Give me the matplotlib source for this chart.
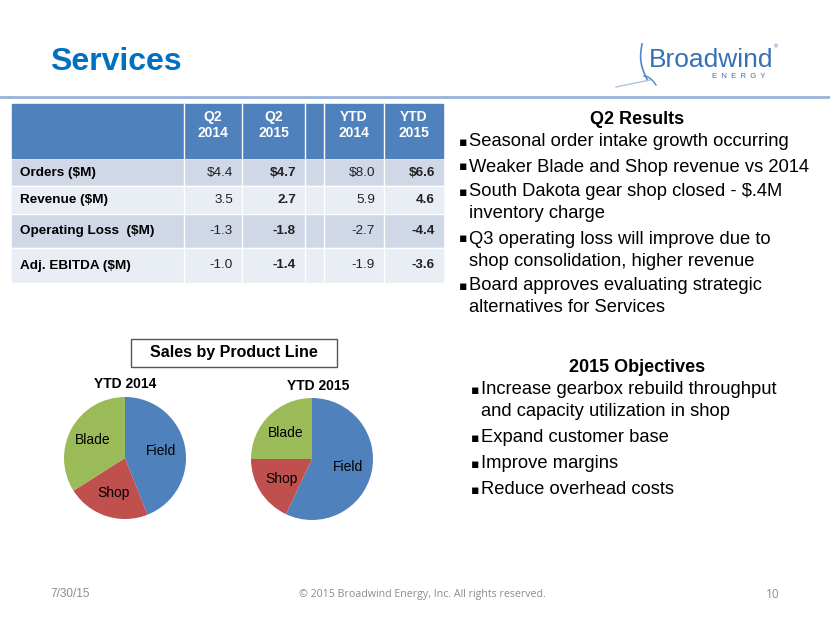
import numpy as np
import matplotlib.pyplot as plt
from matplotlib.patches import Rectangle

plt.rcParams['font.family'] = ['Liberation Sans', 'DejaVu Sans']

# Table data
col_heads = ["Q2\n2014", "Q2\n2015", "", "YTD\n2014", "YTD\n2015"]
row_labels = ["Orders ($M)", "Revenue ($M)", "Operating Loss  ($M)", "Adj. EBITDA ($M)"]
q2_2014 = ["$4.4", "3.5", "-1.3", "-1.0"]
q2_2015 = ["$4.7", "2.7", "-1.8", "-1.4"]
ytd_2014 = ["$8.0", "5.9", "-2.7", "-1.9"]
ytd_2015 = ["$6.6", "4.6", "-4.4", "-3.6"]

# Pie data (share of sales, %)
products = ["Field", "Shop", "Blade"]
sales_2014 = [44, 22, 34]
sales_2015 = [57, 18, 25]
pie_colors = ["#4F81BD", "#C0504D", "#9BBB59"]

q2_points = [
    ["Seasonal order intake growth occurring"],
    ["Weaker Blade and Shop revenue vs 2014"],
    ["South Dakota gear shop closed - $.4M", "inventory charge"],
    ["Q3 operating loss will improve due to", "shop consolidation, higher revenue"],
    ["Board approves evaluating strategic", "alternatives for Services"],
]
objectives = [
    ["Increase gearbox rebuild throughput", "and capacity utilization in shop"],
    ["Expand customer base"],
    ["Improve margins"],
    ["Reduce overhead costs"],
]

W, H = 830, 623
fig = plt.figure(figsize=(W / 100, H / 100), dpi=100)
ax = fig.add_axes([0, 0, 1, 1])
ax.set_xlim(0, W)
ax.set_ylim(H, 0)
ax.axis("off")

# title and rule
ax.text(50, 62, "Services", fontsize=23, fontweight="bold", color="#0070C0", va="center")
ax.plot([0, W], [97, 97], color="#95B3D7", lw=2)

# logo (rough)
ax.text(649, 60, "Broadwind", fontsize=19, color="#3470B6", va="center")
ax.text(774, 47, "®", fontsize=4, color="#3470B6", va="center")
ax.text(712, 76, "E  N  E  R  G  Y", fontsize=5.5, color="#3470B6", va="center")
t = np.linspace(0, 1, 30)
ax.plot(642 - 4 * np.sin(t * 3) + 6 * t, 44 + 36 * t, color="#4F86C6", lw=1.2)
ax.plot(616 + 34 * t, 87 - 7 * t, color="#A9C4E4", lw=1)
ax.plot(644 + 12 * t, 76 + 9 * t ** 2, color="#4F86C6", lw=1)

# table
x_edges = [12, 184, 242, 305, 324, 384, 443]
ax.add_patch(Rectangle((12, 104), 431, 54, color="#4F81BD"))
for xe in x_edges[1:-1]:
    ax.plot([xe, xe], [104, 158], color="white", lw=1)
row_edges = [160, 186, 214, 248, 283]
row_fill = ["#D0D8E8", "#E9EDF4", "#D0D8E8", "#E9EDF4"]
for i in range(4):
    ax.add_patch(Rectangle((12, row_edges[i]), 431, row_edges[i + 1] - row_edges[i],
                           color=row_fill[i]))
    for xe in x_edges[1:-1]:
        ax.plot([xe, xe], [row_edges[i], row_edges[i + 1]], color="white", lw=1)
    ax.plot([12, 443], [row_edges[i + 1], row_edges[i + 1]], color="white", lw=1)

for j, h in enumerate(col_heads):
    xc = (x_edges[j + 1] + x_edges[j + 2]) / 2
    ax.text(xc, 125, h, fontsize=10, fontweight="bold", color="white",
            ha="center", va="center", linespacing=1.15)

right_edges = [233, 296, 375, 435]
cols = [q2_2014, q2_2015, ytd_2014, ytd_2015]
for i, lab in enumerate(row_labels):
    yc = (row_edges[i] + row_edges[i + 1]) / 2
    ax.text(20, yc, lab, fontsize=9.7, fontweight="bold", color="black", va="center")
    for k, col in enumerate(cols):
        ax.text(right_edges[k], yc, col[i], fontsize=9.7, ha="right", va="center",
                fontweight="bold" if k in (1, 3) else "normal", color="#222222")


def bullets(items, y0, xb, xt, step, gap):
    y = y0
    for item in items:
        ax.text(xb, y, "\u25aa", fontsize=9, va="center", family=["DejaVu Sans"])
        for line in item:
            ax.text(xt, y, line, fontsize=13.2, va="center")
            y += step
        y += gap


ax.text(637, 120, "Q2 Results", fontsize=13, fontweight="bold", ha="center", va="center")
bullets(q2_points, 142, 459, 469, 22, 3)
ax.text(637, 368, "2015 Objectives", fontsize=13, fontweight="bold", ha="center", va="center")
bullets(objectives, 390, 471, 481, 22, 4)

# pie section
ax.add_patch(Rectangle((131, 339), 206, 28, fill=False, ec="#555555", lw=1))
ax.text(234, 353, "Sales by Product Line", fontsize=11.5, fontweight="bold",
        ha="center", va="center")
ax.text(125, 384, "YTD 2014", fontsize=10, fontweight="bold", ha="center", va="center")
ax.text(318, 386, "YTD 2015", fontsize=10, fontweight="bold", ha="center", va="center")

for (cx, cy), vals in [((125, 458), sales_2014), ((312, 459), sales_2015)]:
    r = 61
    pax = fig.add_axes([(cx - r) / W, (H - cy - r) / H, 2 * r / W, 2 * r / H])
    pax.pie(vals, labels=products, colors=pie_colors, startangle=90, counterclock=False,
            labeldistance=0.6, textprops={"fontsize": 10, "ha": "center", "va": "center"},
            wedgeprops={"linewidth": 0})
    pax.set_xlim(-1, 1)
    pax.set_ylim(-1, 1)

# footer
ax.text(50, 594, "7/30/15", fontsize=8.5, color="#8C8C8C", va="center")
ax.text(422, 594, "\u00a9 2015 Broadwind Energy, Inc. All rights reserved.", fontsize=7.7,
        color="#8C8C8C", ha="center", va="center", family=["Open Sans"])
ax.text(773, 594, "10", fontsize=8.5, color="#8C8C8C", ha="center", va="center",
        family=["Open Sans"])

fig.savefig("out.png", dpi=100)
